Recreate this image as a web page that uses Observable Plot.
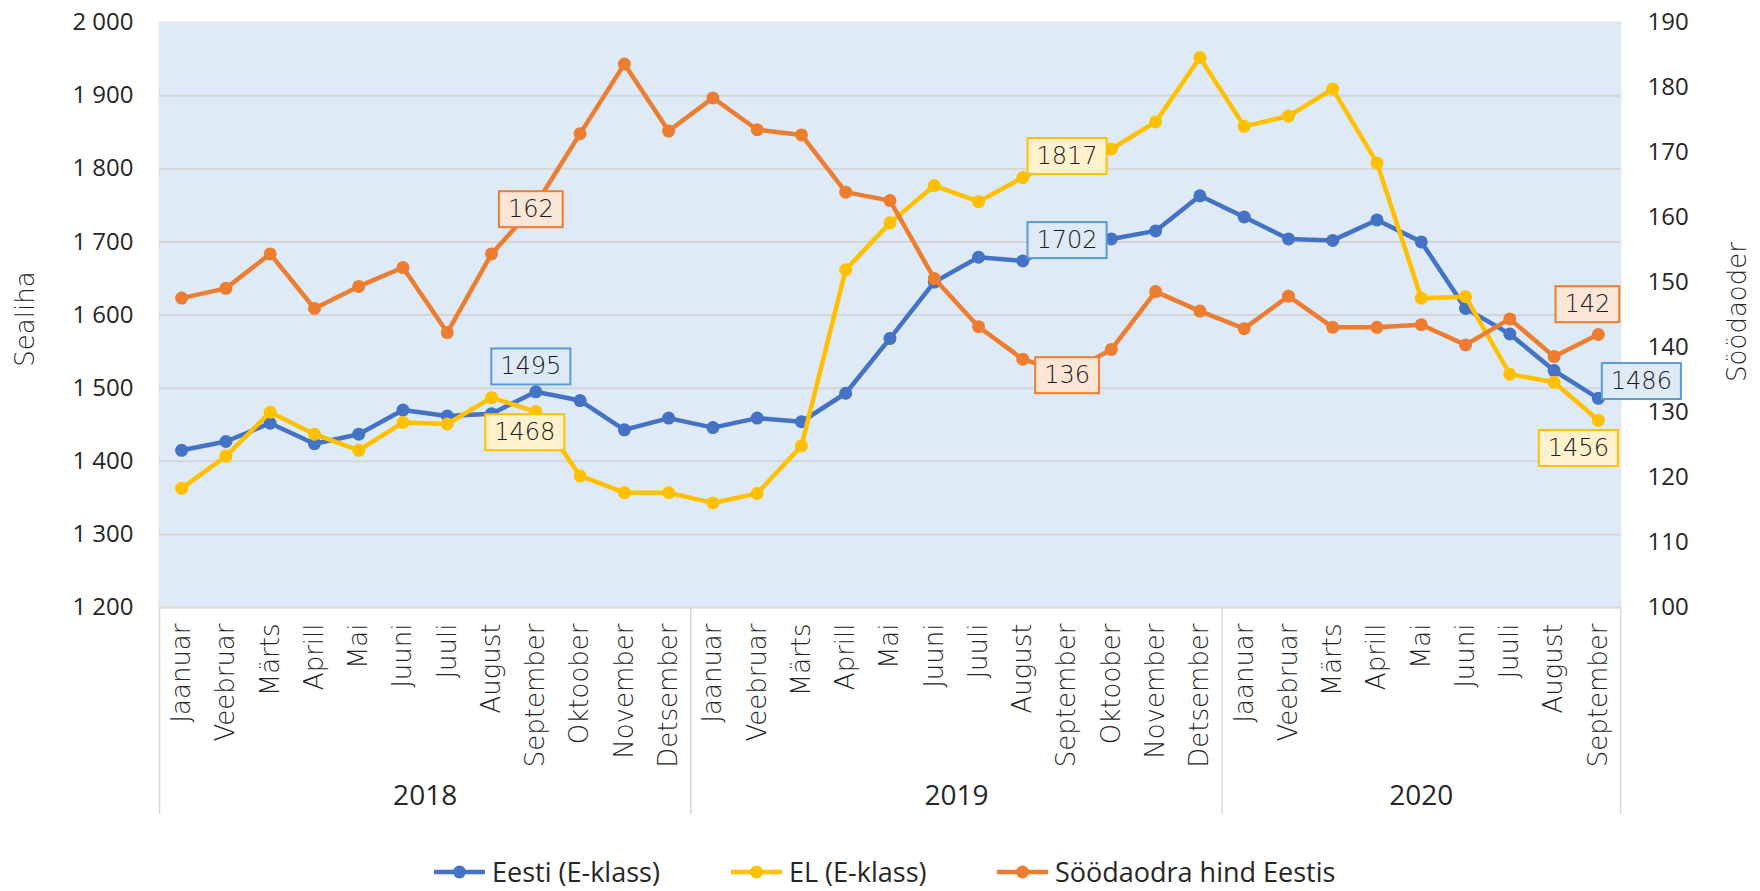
<!DOCTYPE html>
<html>
<head>
<meta charset="utf-8">
<script src="https://cdn.jsdelivr.net/npm/d3@7"></script>
<script src="https://cdn.jsdelivr.net/npm/@observablehq/plot@0.6"></script>
<style>
  body { margin: 0; background: #fff; }
  #wrap { position: relative; width: 1760px; height: 891px; overflow: hidden; }
  #legend { position: absolute; left: 0; top: 850px; width: 1760px; height: 41px;
    font-family: "Liberation Sans Narrow", "Open Sans", sans-serif; font-size: 27px; color: #262626; }
  .item { position: absolute; top: 4px; height: 36px; line-height: 36px; display: flex; align-items: center; white-space: nowrap; }
  .item svg { margin-right: 7px; }
</style>
</head>
<body>
<div id="wrap"><div id="chart"></div><div id="legend"></div></div>
<script>
// ---------- data ----------
const years = [2018, 2019, 2020];
const monthsInYear = [12, 12, 9];
const monthNames = ["Jaanuar", "Veebruar", "Märts", "Aprill", "Mai", "Juuni", "Juuli", "August", "September", "Oktoober", "November", "Detsember"];
const eesti = [1415, 1427, 1452, 1424, 1437, 1470, 1462, 1465, 1495, 1483, 1443, 1459,
               1446, 1459, 1454, 1493, 1568, 1645, 1679, 1674, 1702, 1704, 1715, 1763,
               1734, 1704, 1702, 1730, 1700, 1609, 1574, 1524, 1486];
const el = [1363, 1407, 1467, 1437, 1415, 1453, 1451, 1487, 1468, 1380, 1357, 1357,
            1343, 1356, 1421, 1662, 1726, 1777, 1755, 1788, 1817, 1827, 1864, 1952,
            1858, 1872, 1909, 1808, 1623, 1625, 1519, 1508, 1456];
const sood = [147.6, 149.1, 154.4, 146.0, 149.4, 152.3, 142.3, 154.4, 162, 172.9, 183.6, 173.3,
              178.4, 173.5, 172.7, 163.9, 162.6, 150.6, 143.2, 138.2, 136, 139.7, 148.6, 145.6,
              142.9, 147.9, 143.1, 143.1, 143.5, 140.4, 144.4, 138.6, 142];
const leftTicks = [1200, 1300, 1400, 1500, 1600, 1700, 1800, 1900, 2000];
const rightTicks = [100, 110, 120, 130, 140, 150, 160, 170, 180, 190];
const seriesNames = ["Eesti (E-klass)", "EL (E-klass)", "Söödaodra hind Eestis"];
const leftTitle = "Sealiha";
const rightTitle = "Söödaoder";
// data labels: series index, point index
const labelPoints = [[2, 8], [0, 8], [1, 8], [1, 20], [0, 20], [2, 20], [2, 32], [0, 32], [1, 32]];

// ---------- styling ----------
const colors = ["#4472c4", "#ffc000", "#ed7d31"];
const labelFill = ["#deeaf6", "#fff2cc", "#fbe5d6"];
const labelStroke = ["#5b9bd5", "#ffc000", "#ed7d31"];
const labelOffsets = [[-5, 5], [-5, -25], [-11, 21], [0, 0], [0, 0], [0, 2], [-11, -30], [43, -17], [-20, 28]];
const narrow = "'Liberation Sans Narrow', 'Open Sans', sans-serif";
const light = "'DejaVu Sans', sans-serif";

// ---------- derived ----------
const monthLabels = years.flatMap((y, k) => monthNames.slice(0, monthsInYear[k]));
const n = monthLabels.length;
const idx = d3.range(n);
const cum = d3.cumsum(monthsInYear);
const bounds = [-0.5, ...Array.from(cum, c => c - 0.5)];
const yearCenters = years.map((y, k) => (bounds[k] + bounds[k + 1]) / 2);
const L = [leftTicks[0], leftTicks[leftTicks.length - 1]];
const R = [rightTicks[0], rightTicks[rightTicks.length - 1]];
const r2l = v => L[0] + (v - R[0]) * (L[1] - L[0]) / (R[1] - R[0]);
const l2r = v => R[0] + (v - L[0]) * (R[1] - R[0]) / (L[1] - L[0]);
const seriesVals = [eesti, el, sood];
const conv = [v => v, v => v, r2l];
const rows = seriesVals.map((arr, s) => arr.map((v, i) => ({i, v, y: conv[s](v)})));
const fmtLeft = d => `${Math.floor(d / 1000)} ${String(d % 1000).padStart(3, "0")}`;

const marks = [
  Plot.frame({fill: "#deeaf6", stroke: "#e6e6e6", strokeWidth: 2}),
  Plot.ruleY(leftTicks.slice(1, -1), {stroke: "#d3d5d8", strokeWidth: 2}),
  Plot.ruleY([L[0]], {stroke: "#d9d9d9", strokeWidth: 2}),
  Plot.axisY(leftTicks, {anchor: "left", tickSize: 0, tickPadding: 26, tickFormat: fmtLeft,
    fontSize: 24, fontFamily: narrow, label: null}),
  Plot.axisY(rightTicks.map(r2l), {anchor: "right", tickSize: 0, tickPadding: 27,
    tickFormat: v => String(Math.round(l2r(v))), fontSize: 24, fontFamily: narrow, label: null}),
  Plot.axisX(idx, {anchor: "bottom", tickSize: 0, tickPadding: 16, tickRotate: -90,
    tickFormat: i => monthLabels[i], fontSize: 26, fontFamily: light, fontWeight: 200, label: null}),
  Plot.axisX(bounds, {anchor: "bottom", tickSize: 207, tickFormat: () => "", stroke: "#d9d9d9",
    strokeWidth: 1.5, strokeOpacity: 1, label: null}),
  Plot.axisX(yearCenters, {anchor: "bottom", tickSize: 0, tickPadding: 178,
    tickFormat: d => String(years[yearCenters.indexOf(d)]), fontSize: 28, fontFamily: narrow, label: null}),
  Plot.text([leftTitle], {frameAnchor: "left", textAnchor: "middle", dx: -134, dy: 4, rotate: -90, text: d => d,
    fontSize: 26, fontFamily: light, fontWeight: 200, fill: "#262626"}),
  Plot.text([rightTitle], {frameAnchor: "right", textAnchor: "middle", dx: 117, dy: -3, rotate: -90, text: d => d,
    fontSize: 26, fontFamily: light, fontWeight: 200, fill: "#262626"})
];

rows.forEach((r, s) => {
  marks.push(Plot.line(r, {x: "i", y: "y", stroke: colors[s], strokeWidth: 4.5, strokeLinejoin: "round"}));
  marks.push(Plot.dot(r, {x: "i", y: "y", r: 6.5, fill: colors[s], stroke: "none"}));
});

labelPoints.forEach(([s, i], k) => {
  marks.push(Plot.text([rows[s][i]], {
    x: "i", y: "y", text: d => String(Math.round(d.v)),
    dx: labelOffsets[k][0], dy: labelOffsets[k][1], lineAnchor: "middle",
    fontSize: 24, fontFamily: light, fontWeight: 200, fill: "#1a1a1a"
  }));
});

const chart = Plot.plot({
  width: 1760, height: 850,
  marginLeft: 159, marginRight: 140, marginTop: 22, marginBottom: 243,
  x: {type: "linear", domain: [-0.5, n - 0.5], axis: null},
  y: {type: "linear", domain: L, axis: null},
  style: {background: "white", color: "#262626", fontFamily: narrow, overflow: "visible"},
  marks
});
document.getElementById("chart").appendChild(chart);

// boxes behind data labels (the last text groups are the data labels, in order)
const textGroups = Array.from(chart.querySelectorAll('g[aria-label="text"]')).slice(-labelPoints.length);
textGroups.forEach((g, k) => {
  const s = labelPoints[k][0];
  g.querySelectorAll("text").forEach(t => {
    const bb = t.getBBox();
    const padX = 9, padY = 4;
    const rect = document.createElementNS("http://www.w3.org/2000/svg", "rect");
    rect.setAttribute("x", bb.x - padX);
    rect.setAttribute("y", bb.y - padY);
    rect.setAttribute("width", bb.width + 2 * padX);
    rect.setAttribute("height", bb.height + 2 * padY);
    rect.setAttribute("fill", labelFill[s]);
    rect.setAttribute("stroke", labelStroke[s]);
    rect.setAttribute("stroke-width", 2);
    const tr = t.getAttribute("transform");
    if (tr) rect.setAttribute("transform", tr);
    t.parentNode.insertBefore(rect, t);
  });
});

// legend
const legendLeft = [434, 731, 997];
const legend = document.getElementById("legend");
seriesNames.forEach((name, s) => {
  const it = document.createElement("div");
  it.className = "item";
  it.style.left = legendLeft[s] + "px";
  it.innerHTML = `<svg width="51" height="16"><line x1="0" y1="8" x2="51" y2="8" stroke="${colors[s]}" stroke-width="4.5"/><circle cx="25.5" cy="8" r="6.5" fill="${colors[s]}"/></svg><span>${name}</span>`;
  legend.appendChild(it);
});
</script>
</body>
</html>
